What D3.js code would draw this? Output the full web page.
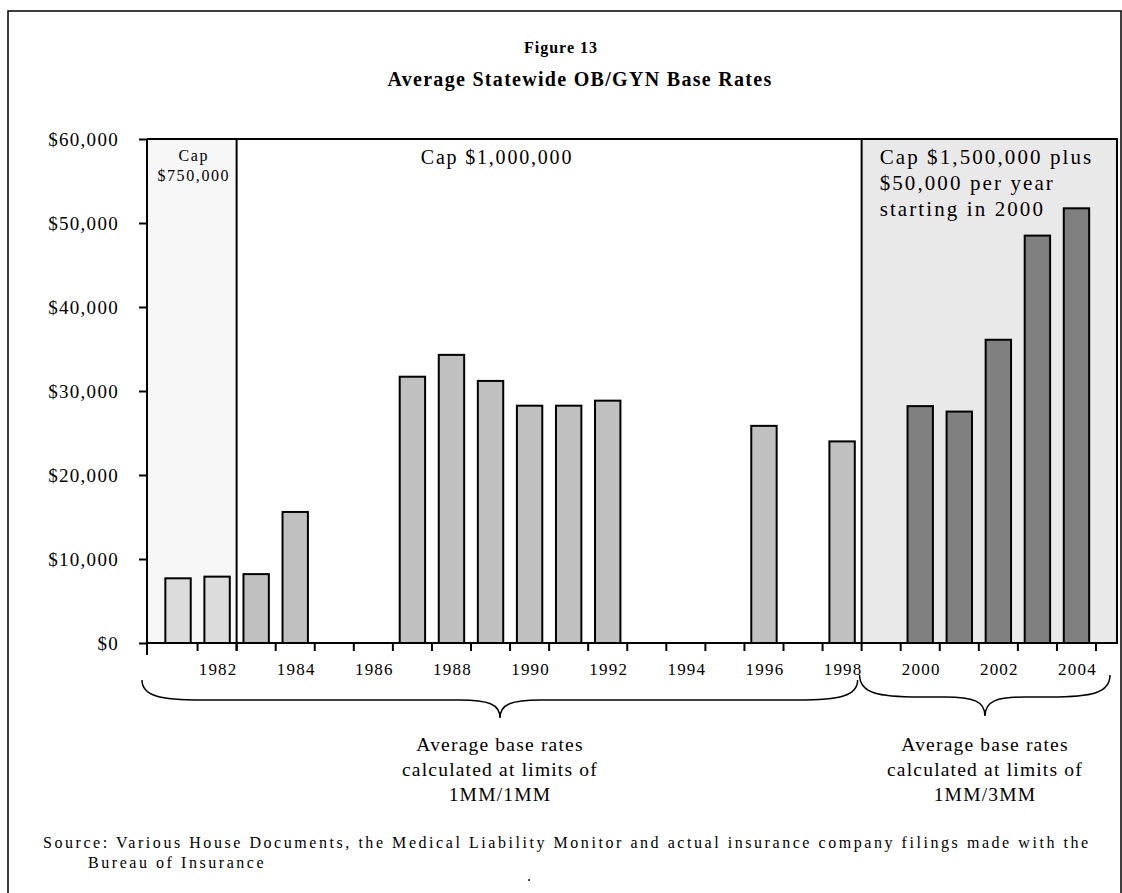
<!DOCTYPE html>
<html>
<head>
<meta charset="utf-8">
<script src="https://cdn.jsdelivr.net/npm/d3@7"></script>
<style>
  body { margin: 0; background: #fff; }
  svg text { font-family: 'Liberation Serif', 'Times New Roman', serif; fill: #000; }
</style>
</head>
<body>
<svg id="chart" width="1122" height="893"></svg>
<script>
// data
const years = [1981, 1982, 1983, 1984, 1985, 1986, 1987, 1988, 1989, 1990, 1991, 1992,
  1993, 1994, 1995, 1996, 1997, 1998, 1999, 2000, 2001, 2002, 2003, 2004]
const baseRates = [7700, 7900, 8200, 15600, null, null, 31700, 34300, 31200, 28250, 28250, 28850,
  null, null, null, 25850, null, 24000, null, 28200, 27550, 36100, 48500, 51750]
const yTicks = [0, 10000, 20000, 30000, 40000, 50000, 60000]
const xLabelYears = [1982, 1984, 1986, 1988, 1990, 1992, 1994, 1996, 1998, 2000, 2002, 2004]
const capEnds = [1982, 1998]   // last year under each cap
const capLabels = [['Cap', '$750,000'], ['Cap $1,000,000'],
  ['Cap $1,500,000 plus', '$50,000 per year', 'starting in 2000']]
const limitNotes = [['Average base rates', 'calculated at limits of', '1MM/1MM'],
  ['Average base rates', 'calculated at limits of', '1MM/3MM']]
const titleLines = ['Figure 13', 'Average Statewide OB/GYN Base Rates']
const sourceLines = ['Source: Various House Documents, the Medical Liability Monitor and actual insurance company filings made with the',
  'Bureau of Insurance']

const $svg = d3.select('#chart')

const PLOT = { left: 147, right: 1117, top: 139, bottom: 643 }

const xScale = d3.scaleBand()
  .domain(years)
  .range([158.5, 1096])
  .paddingInner(0.35)
  .paddingOuter(0.175)

const yScale = d3.scaleLinear()
  .domain([0, 60000])
  .range([PLOT.bottom, PLOT.top])

// right edge of a year's slot
const slotEnd = yr => xScale(yr) + xScale.bandwidth() / 2 + xScale.step() / 2
const barColor = yr => yr <= capEnds[0] ? '#dcdcdc' : (yr <= capEnds[1] ? '#c0c0c0' : '#808080')

// outer frame
$svg.append('path')
  .attr('d', `M8,900 V11 H1121 V900`)
  .attr('fill', 'none')
  .attr('stroke', '#000')
  .attr('stroke-width', 1.5)

// title
$svg.append('text')
  .attr('x', 561).attr('y', 53)
  .attr('text-anchor', 'middle')
  .style('font-weight', 'bold').style('font-size', '16px').style('letter-spacing', '1px')
  .text(titleLines[0])
$svg.append('text')
  .attr('x', 580).attr('y', 86)
  .attr('text-anchor', 'middle')
  .style('font-weight', 'bold').style('font-size', '20px').style('letter-spacing', '1.3px')
  .text(titleLines[1])

const $gVis = $svg.append('g')

// cap regions
const split1 = slotEnd(capEnds[0]), split2 = slotEnd(capEnds[1])
$gVis.append('rect')
  .attr('x', PLOT.left).attr('y', PLOT.top)
  .attr('width', split1 - PLOT.left).attr('height', PLOT.bottom - PLOT.top)
  .attr('fill', '#f7f7f7')
$gVis.append('rect')
  .attr('x', split2).attr('y', PLOT.top)
  .attr('width', PLOT.right - split2).attr('height', PLOT.bottom - PLOT.top)
  .attr('fill', '#e9e9e9').attr('stroke', '#000').attr('stroke-width', 2)
$gVis.append('line')
  .attr('x1', PLOT.left).attr('x2', PLOT.right)
  .attr('y1', PLOT.top).attr('y2', PLOT.top)
  .attr('stroke', '#000').attr('stroke-width', 2)
$gVis.append('line')
  .attr('x1', split1).attr('x2', split1)
  .attr('y1', PLOT.top).attr('y2', PLOT.bottom + 8)
  .attr('stroke', '#000').attr('stroke-width', 2)

// cap labels
$gVis.append('text')
  .attr('y', 161)
  .attr('text-anchor', 'middle')
  .style('font-size', '16px')
  .selectAll('tspan')
  .data(capLabels[0])
  .join('tspan')
    .attr('x', (PLOT.left + split1) / 2 + 2)
    .attr('dy', (d, i) => i ? 20 : 0)
    .style('letter-spacing', '1.6px')
    .text(d => d)
$gVis.append('text')
  .attr('x', 497).attr('y', 164)
  .attr('text-anchor', 'middle')
  .style('font-size', '20px').style('letter-spacing', '1.8px')
  .text(capLabels[1][0])
$gVis.append('text')
  .attr('y', 164)
  .style('font-size', '21px')
  .selectAll('tspan')
  .data(capLabels[2])
  .join('tspan')
    .attr('x', split2 + 18)
    .attr('dy', (d, i) => i ? 26 : 0)
    .style('letter-spacing', '2.1px')
    .text(d => d)

// bars
$gVis.selectAll('rect.bar')
  .data(years.map((yr, i) => ({ year: yr, value: baseRates[i] })).filter(d => d.value != null))
  .join('rect')
  .attr('class', 'bar')
  .attr('x', d => xScale(d.year))
  .attr('y', d => yScale(d.value))
  .attr('width', xScale.bandwidth())
  .attr('height', d => yScale(0) - yScale(d.value))
  .attr('fill', d => barColor(d.year))
  .attr('stroke', '#000')
  .attr('stroke-width', 2)

// y axis
const $yAxis = $gVis.append('g')
  .attr('transform', `translate(${PLOT.left},0)`)
  .call(d3.axisLeft(yScale).tickValues(yTicks).tickSize(8).tickPadding(20)
    .tickFormat(d => '$' + d3.format(',')(d)))
$yAxis.select('.domain').remove()
$yAxis.selectAll('line').attr('stroke', '#000').attr('stroke-width', 2)
$yAxis.selectAll('text')
  .style('font-size', '19px').style('letter-spacing', '1.3px')
  .style('font-family', "'Liberation Serif', serif")
$gVis.append('line')
  .attr('x1', PLOT.left).attr('x2', PLOT.left)
  .attr('y1', PLOT.top).attr('y2', PLOT.bottom + 12)
  .attr('stroke', '#000').attr('stroke-width', 2)

// x axis
$gVis.append('line')
  .attr('x1', PLOT.left).attr('x2', PLOT.right)
  .attr('y1', PLOT.bottom).attr('y2', PLOT.bottom)
  .attr('stroke', '#000').attr('stroke-width', 2)
$gVis.selectAll('line.xtick')
  .data(years)
  .join('line')
  .attr('class', 'xtick')
  .attr('x1', d => slotEnd(d)).attr('x2', d => slotEnd(d))
  .attr('y1', PLOT.bottom).attr('y2', PLOT.bottom + 8)
  .attr('stroke', '#000').attr('stroke-width', 2)
$gVis.selectAll('text.xlabel')
  .data(xLabelYears)
  .join('text')
  .attr('class', 'xlabel')
  .attr('x', d => xScale(d) + xScale.bandwidth() / 2 + 1)
  .attr('y', 675)
  .attr('text-anchor', 'middle')
  .style('font-size', '17px').style('letter-spacing', '1.2px')
  .text(d => d)

// braces under the axis
function bracePath(x0, x1, yEnd, yLine, xTip, yTip) {
  return `M${x0},${yEnd} C${x0},${yLine - 4} ${x0 + 18},${yLine} ${x0 + 60},${yLine}` +
    ` L${xTip - 40},${yLine} C${xTip - 12},${yLine} ${xTip},${yLine + 4} ${xTip},${yTip}` +
    ` C${xTip},${yLine + 4} ${xTip + 12},${yLine} ${xTip + 40},${yLine}` +
    ` L${x1 - 60},${yLine} C${x1 - 18},${yLine} ${x1},${yLine - 4} ${x1},${yEnd}`
}
const braces = [
  { x0: 142, x1: split2 - 4, yEnd: 680, yLine: 700, tip: 500, yTip: 718 },
  { x0: split2 - 2, x1: 1110, yEnd: 675, yLine: 697, tip: 985, yTip: 716 }
]
$gVis.selectAll('path.brace')
  .data(braces)
  .join('path')
  .attr('class', 'brace')
  .attr('d', d => bracePath(d.x0, d.x1, d.yEnd, d.yLine, d.tip, d.yTip))
  .attr('fill', 'none').attr('stroke', '#000').attr('stroke-width', 1.5)

braces.forEach((b, k) => {
  $gVis.append('text')
    .attr('y', 751)
    .attr('text-anchor', 'middle')
    .style('font-size', '19.5px')
    .selectAll('tspan')
    .data(limitNotes[k])
    .join('tspan')
      .attr('x', b.tip)
      .attr('dy', (d, i) => i ? 25 : 0)
      .style('letter-spacing', '1.2px')
      .text(d => d)
})

// source
$svg.append('text')
  .attr('x', 43).attr('y', 848)
  .style('font-size', '16px').style('letter-spacing', '2.55px')
  .text(sourceLines[0])
$svg.append('text')
  .attr('x', 88).attr('y', 868)
  .style('font-size', '16px').style('letter-spacing', '2.55px')
  .text(sourceLines[1])
$svg.append('text')
  .attr('x', 527).attr('y', 881)
  .style('font-size', '16px')
  .text('.')
</script>
</body>
</html>
